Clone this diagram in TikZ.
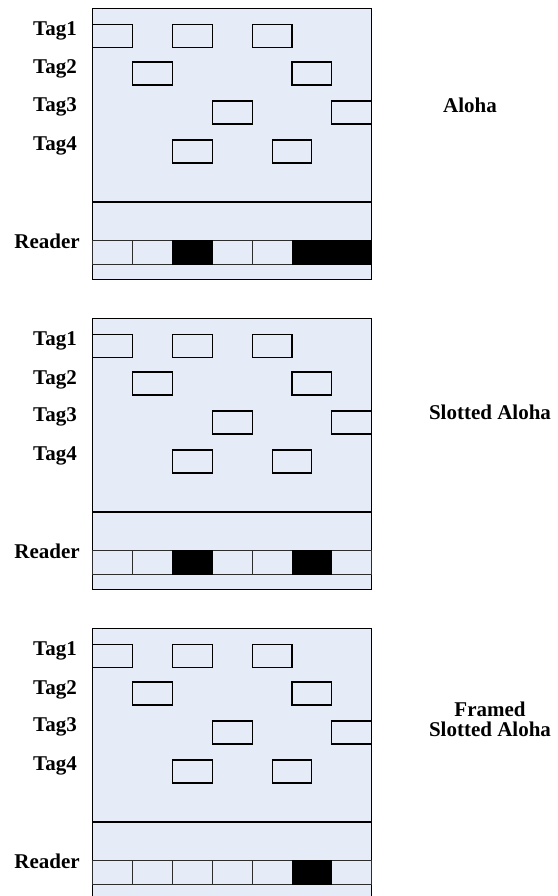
\documentclass[tikz,border=0pt]{standalone}
\usepackage{fontspec}
\setmainfont{Liberation Serif}
\definecolor{panelfill}{RGB}{230,236,247}
\definecolor{slotedge}{RGB}{45,45,45}

% One timing panel: four tag rows, a divider and the reader row.
% #1 = vertical offset, #2 = list of busy reader slots, #3 = name suffix
\newcommand\timingpanel[3]{%
  \begin{scope}[shift={(0,#1)}]
    \draw[panel] (92.7,0) rectangle (371.7,271);
    % tag transmissions (row offset / starting slot)
    \foreach \r/\s in {16/0,16/2,16/4,53.7/1,53.7/5,92.7/3,92.7/6,131.7/2,131.7/4.5}
      \draw[tagbox] (92.7+\s*\slotw,\r) rectangle ++(\slotw,23);
    \draw[divider] (92.7,193.7) -- (371.7,193.7);
    % reader slots
    \foreach \s in {0,...,6}
      \draw[slotbox] (92.7+\s*\slotw,232.4) rectangle ++(\slotw,23.3);
    \foreach \s in {#2}
      \draw[busy] (92.7+\s*\slotw,232.4) rectangle ++(\slotw,23.3);
    \node[lab] (tag1#3) at (77,27.4) {Tag1};
    \node[lab] (tag2#3) at (77,65.7) {Tag2};
    \node[lab] (tag3#3) at (77,103.4) {Tag3};
    \node[lab] (tag4#3) at (77,142.4) {Tag4};
    \node[lab] (reader#3) at (80,240) {Reader};
  \end{scope}}

\begin{document}
\begin{tikzpicture}[x=1pt,y=-1pt,
  panel/.style={draw=black, line width=0.9pt, fill=panelfill},
  tagbox/.style={draw=black, line width=1.1pt},
  divider/.style={draw=black, line width=1.5pt},
  slotbox/.style={draw=slotedge, line width=0.9pt},
  busy/.style={draw=black, fill=black, line width=0.9pt},
  lab/.style={font=\bfseries\fontsize{21}{20}\selectfont, inner sep=0pt, anchor=base east},
  method/.style={font=\bfseries\fontsize{21}{19.5}\selectfont, inner sep=0pt, align=center}]
\useasboundingbox (0,0) rectangle (557,896);
\def\slotw{39.857}

\timingpanel{8.3}{2,5,6}{a}
\timingpanel{318.3}{2,5}{b}
\timingpanel{628.3}{5}{c}

\node[method, anchor=base] (aloha) at (470,113) {Aloha};
\node[method, anchor=base] (slotted) at (490,419.3) {Slotted Aloha};
\node[method, anchor=center] (framed) at (490,719.5) {Framed\\Slotted Aloha};
\end{tikzpicture}
\end{document}
